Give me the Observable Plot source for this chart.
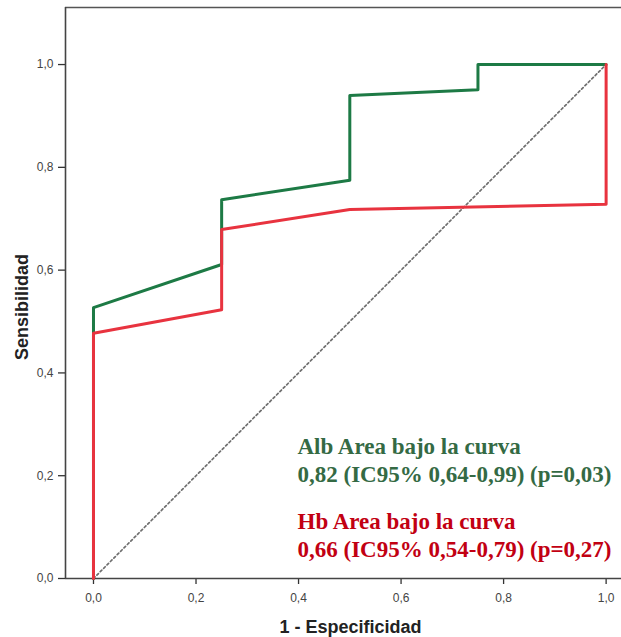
<!DOCTYPE html>
<html>
<head>
<meta charset="utf-8">
<script src="https://cdn.jsdelivr.net/npm/d3@7"></script>
<script src="https://cdn.jsdelivr.net/npm/@observablehq/plot@0.6"></script>
<style>
  html, body { margin: 0; padding: 0; background: #fff; }
  #chart svg { display: block; }
</style>
</head>
<body>
<div id="chart"></div>
<script>
// ROC curve data
const albFPR  = [0, 0, 0.25, 0.25, 0.5, 0.5, 0.75, 0.75, 1];
const albSens = [0, 0.527, 0.611, 0.737, 0.775, 0.940, 0.951, 1.0, 1.0];
const hbFPR   = [0, 0, 0.25, 0.25, 0.5, 1, 1];
const hbSens  = [0, 0.477, 0.523, 0.679, 0.718, 0.728, 1.0];
const refFPR  = [0, 1];
const refSens = [0, 1];

const tickValues = [0, 0.2, 0.4, 0.6, 0.8, 1.0];
const xTitle = "1 - Especificidad";
const yTitle = "Sensibilidad";
const albNote = ["Alb Area bajo la curva", "0,82 (IC95% 0,64-0,99) (p=0,03)"];
const hbNote  = ["Hb Area bajo la curva",  "0,66 (IC95% 0,54-0,79) (p=0,27)"];

const xDomain = [-0.0546, 1.030];
const yDomain = [0, 1.111];

const alb = albFPR.map((x, i) => ({x, y: albSens[i]}));
const hb  = hbFPR.map((x, i) => ({x, y: hbSens[i]}));
const ref = refFPR.map((x, i) => ({x, y: refSens[i]}));
const fmt = d => d.toFixed(1).replace(".", ",");

const chart = Plot.plot({
  width: 621,
  height: 637,
  marginLeft: 65,
  marginTop: 7,
  marginBottom: 59,
  marginRight: 0,
  style: {fontFamily: "'Liberation Sans', Arial, sans-serif", fontSize: "12px", color: "#333"},
  x: {domain: xDomain, label: null},
  y: {domain: yDomain, label: null},
  marks: [
    Plot.axisX({ticks: tickValues, tickFormat: fmt, tickSize: 6, tickPadding: 9, stroke: "#333", strokeWidth: 1.3, fill: "#444", fontSize: 12}),
    Plot.axisY({ticks: tickValues, tickFormat: fmt, tickSize: 7, tickPadding: 5, stroke: "#333", strokeWidth: 1.3, fill: "#444", fontSize: 12}),
    Plot.ruleY([yDomain[0]], {stroke: "#444", strokeWidth: 1.6}),
    Plot.ruleY([yDomain[1]], {stroke: "#555", strokeWidth: 1.6}),
    Plot.ruleX([xDomain[0]], {stroke: "#444", strokeWidth: 1.6}),
    Plot.line(ref, {x: "x", y: "y", stroke: "#6f6f6f", strokeWidth: 1.7, strokeDasharray: "2.2,2.6"}),
    Plot.line(alb, {x: "x", y: "y", stroke: "#1d7a45", strokeWidth: 3}),
    Plot.line(hb,  {x: "x", y: "y", stroke: "#e8333f", strokeWidth: 3}),
    Plot.text([albNote.join("\n")], {frameAnchor: "top-left", dx: 232, dy: 427, lineAnchor: "top", textAnchor: "start",
      lineHeight: 1.22, fontFamily: "'Liberation Serif', 'Times New Roman', serif", fontWeight: "bold", fontSize: 23, fill: "#346a44"}),
    Plot.text([hbNote.join("\n")], {frameAnchor: "top-left", dx: 232, dy: 502, lineAnchor: "top", textAnchor: "start",
      lineHeight: 1.22, fontFamily: "'Liberation Serif', 'Times New Roman', serif", fontWeight: "bold", fontSize: 23, fill: "#c20012"}),
    Plot.text([xTitle], {frameAnchor: "bottom", dx: 7, dy: 54, lineAnchor: "bottom", textAnchor: "middle", fontWeight: "bold", fontSize: 18, fill: "#222"}),
    Plot.text([yTitle], {frameAnchor: "left", dx: -43, dy: 14, rotate: -90, lineAnchor: "middle", textAnchor: "middle", fontWeight: "bold", fontSize: 18, fill: "#222"})
  ]
});
document.getElementById("chart").appendChild(chart);
</script>
</body>
</html>
